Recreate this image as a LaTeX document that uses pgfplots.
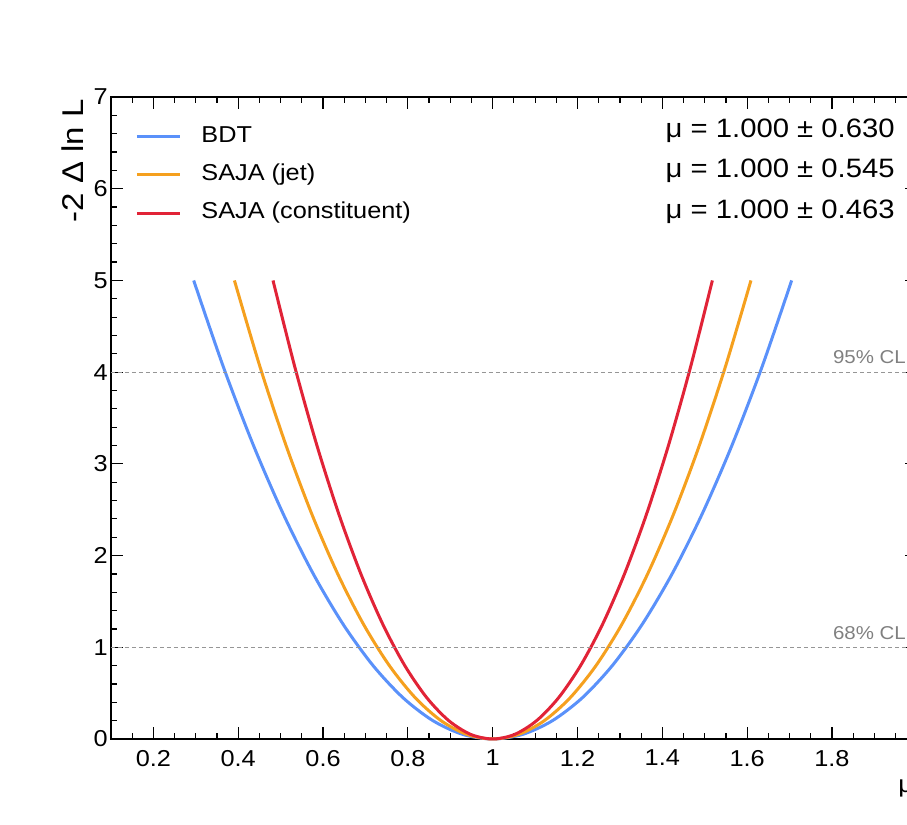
\documentclass[border=0pt]{standalone}
\usepackage{fontspec}
\setmainfont{Liberation Sans}[FakeStretch=1.1]
\usepackage{pgfplots}
\pgfplotsset{compat=1.18}
\definecolor{cBDT}{RGB}{90,145,250}
\definecolor{cJet}{RGB}{245,160,30}
\definecolor{cCon}{RGB}{225,35,55}
\definecolor{clgray}{RGB}{150,150,150}

\begin{document}
\begin{tikzpicture}
\begin{axis}[
  scale only axis, width=402.9pt, height=321pt,
  xmin=0.1, xmax=2.0, ymin=0, ymax=7,
  xtick={0.2,0.4,...,1.8}, minor xtick={0.1,0.15,...,2.0},
  ytick={0,1,...,7}, minor ytick={0,0.2,...,7},
  tick align=inside,
  major tick length=6pt, minor tick length=3pt,
  every tick/.style={black, line width=0.6pt},
  axis line style={line width=1.1pt},
  ticklabel style={font=\fontsize{11.5}{13}\selectfont},
  /pgf/number format/assume math mode=true,
  xticklabel style={yshift=-2pt},
  yticklabel style={inner sep=1.5pt},
  clip=false,
  legend cell align=left,
  legend image code/.code={\draw[#1, line width=1.5pt] (0pt,0pt) -- (21.5pt,0pt);},
  legend style={draw=none, fill=none, at={(axis description cs:0.0298,0.9564)},
    anchor=north west, inner sep=0pt, row sep=8.4pt,
    font=\fontsize{11.5}{13}\selectfont,
    nodes={inner sep=0pt, text height=8.3pt, text depth=2.5pt},
    /tikz/every odd column/.append style={column sep=10pt}},
  xlabel={μ}, xlabel style={at={(axis description cs:0.9767,-0.0826)}, anchor=base west,
    font=\fontsize{12}{14}\selectfont, inner sep=0pt},
  ylabel={-2 Δ ln L}, ylabel style={at={(axis description cs:-0.0347,0.997)}, anchor=base east,
    font=\fontsize{15}{18}\selectfont, inner sep=0pt},
]
\addplot[cBDT, line width=1.5pt, smooth] coordinates {
(0.295,5) (0.3655,4.05) (0.436,3.2) (0.5065,2.45) (0.577,1.8) (0.6475,1.25) (0.718,0.8)
(0.7885,0.45) (0.859,0.2) (0.9295,0.05) (1,0) (1.0705,0.05) (1.141,0.2) (1.2115,0.45)
(1.282,0.8) (1.3525,1.25) (1.423,1.8) (1.4935,2.45) (1.564,3.2) (1.6345,4.05) (1.705,5)};
\addlegendentry{BDT}
\addplot[cJet, line width=1.5pt, smooth] coordinates {
(0.391,5) (0.4519,4.05) (0.5128,3.2) (0.5737,2.45) (0.6346,1.8) (0.6955,1.25) (0.7564,0.8)
(0.8173,0.45) (0.8782,0.2) (0.9391,0.05) (1,0) (1.0609,0.05) (1.1218,0.2) (1.1827,0.45)
(1.2436,0.8) (1.3045,1.25) (1.3654,1.8) (1.4263,2.45) (1.4872,3.2) (1.5481,4.05) (1.609,5)};
\addlegendentry{SAJA (jet)}
\addplot[cCon, line width=1.5pt, smooth] coordinates {
(0.482,5) (0.5338,4.05) (0.5856,3.2) (0.6374,2.45) (0.6892,1.8) (0.741,1.25) (0.7928,0.8)
(0.8446,0.45) (0.8964,0.2) (0.9482,0.05) (1,0) (1.0518,0.05) (1.1036,0.2) (1.1554,0.45)
(1.2072,0.8) (1.259,1.25) (1.3108,1.8) (1.3626,2.45) (1.4144,3.2) (1.4662,4.05) (1.518,5)};
\addlegendentry{SAJA (constituent)}
\addplot[clgray, line width=0.5pt, dash pattern=on 2pt off 1.5pt, forget plot] coordinates {(0.1,1) (2.0,1)};
\addplot[clgray, line width=0.5pt, dash pattern=on 2pt off 1.5pt, forget plot] coordinates {(0.1,4) (2.0,4)};
\node[anchor=base east, inner sep=0pt, text=gray, font=\fontsize{9.3}{11}\selectfont]
  at (axis cs:1.975,1.09) {68\% CL};
\node[anchor=base east, inner sep=0pt, text=gray, font=\fontsize{9.3}{11}\selectfont]
  at (axis cs:1.975,4.09) {95\% CL};
\node[anchor=base east, inner sep=0pt, font=\fontsize{13.3}{16}\selectfont]
  at (axis description cs:0.973,0.9377) {μ = 1.000 ± 0.630};
\node[anchor=base east, inner sep=0pt, font=\fontsize{13.3}{16}\selectfont]
  at (axis description cs:0.973,0.8754) {μ = 1.000 ± 0.545};
\node[anchor=base east, inner sep=0pt, font=\fontsize{13.3}{16}\selectfont]
  at (axis description cs:0.973,0.8115) {μ = 1.000 ± 0.463};
\end{axis}
\pgfresetboundingbox
\useasboundingbox (-55.5pt,-43pt) rectangle (398pt,369.5pt);
\end{tikzpicture}
\end{document}
